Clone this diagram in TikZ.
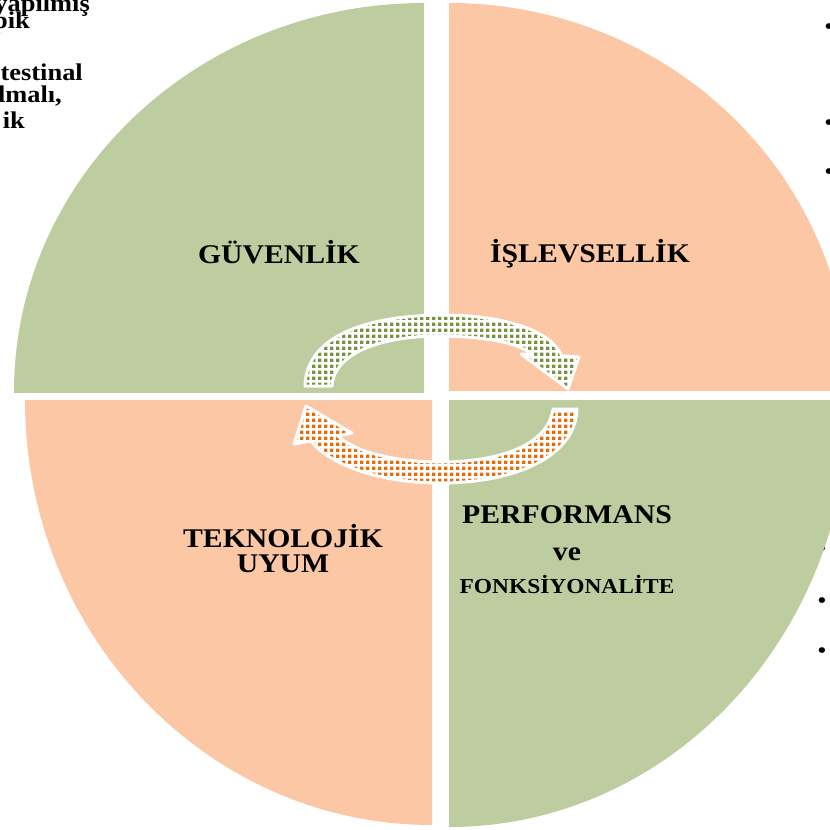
\documentclass[tikz,border=0pt]{standalone}
\usepackage{fontspec}
\setmainfont{Liberation Serif}
\newfontfamily\labelfont[FakeStretch=1.1]{Liberation Serif}
\usetikzlibrary{patterns.meta}
\definecolor{quadgreen}{RGB}{189,205,160}
\definecolor{quadorange}{RGB}{251,199,164}
\definecolor{arrowgreen}{RGB}{118,146,60}
\definecolor{arroworange}{RGB}{228,108,10}
\tikzdeclarepattern{
  name=bigchecker,
  type=uncolored,
  bottom left={(0pt,0pt)},
  top right={(6pt,6pt)},
  tile size={(6pt,6pt)},
  code={\fill (0pt,0pt) rectangle (4pt,4pt);}
}

\begin{document}
\begin{tikzpicture}[x=1pt,y=-1pt,
  sectitle/.style={font=\labelfont\bfseries\fontsize{27}{27}\selectfont, inner sep=0pt, anchor=base},
  cuttext/.style={font=\labelfont\bfseries\fontsize{24}{24}\selectfont, inner sep=0pt, anchor=base east},
  dotmark/.style={font=\labelfont\fontsize{24}{24}\selectfont, inner sep=0pt},
  arrowband/.style={preaction={fill=white}, pattern={bigchecker}, draw=white, line width=3pt, line join=round}]
\def\pagesize{830}

\useasboundingbox (0,0) rectangle (\pagesize,\pagesize);

\node[cuttext] (cut1) at (90,11) {yapılmış};
\node[cuttext] (cut2) at (30,28) {pik};
\node[cuttext] (cut3) at (83,80) {testinal};
\node[cuttext] (cut4) at (62,102) {dmalı,};
\node[cuttext] (cut5) at (25,128) {ik};

\node[dotmark] (dot1) at (829,29) {•};
\node[dotmark] (dot2) at (829,125) {•};
\node[dotmark] (dot3) at (829,174) {•};
\node[dotmark] (dot4) at (822,551) {•};
\node[dotmark] (dot5) at (822,603) {•};
\node[dotmark] (dot6) at (822,653) {•};

\begin{scope}
\clip (0,0) rectangle (424,392);
\fill[quadgreen] (424,392) ellipse [x radius=410, y radius=389];
\end{scope}
\begin{scope}
\clip (449,0) rectangle (\pagesize,390);
\fill[quadorange] (449,390) ellipse [x radius=400, y radius=387];
\end{scope}
\begin{scope}
\clip (0,400) rectangle (432,\pagesize);
\fill[quadorange] (432,400) ellipse [x radius=407, y radius=425];
\end{scope}
\begin{scope}
\clip (449,400) rectangle (\pagesize,\pagesize);
\fill[quadgreen] (449,400) ellipse [x radius=400, y radius=427];
\end{scope}

\draw[arrowband, pattern color=arrowgreen] (305,386) .. controls (306,338) and (362,316) .. (440,315)
  .. controls (505,315) and (550,330) .. (562,356) -- (579,357) -- (568,389) -- (521,354) -- (533,355)
  .. controls (518,342) and (482,336) .. (435,336) .. controls (378,337) and (334,354) .. (332,386) -- cycle;
\draw[arrowband, pattern color=arroworange] (577,409) .. controls (576,455) and (518,483) .. (440,483)
  .. controls (380,483) and (330,465) .. (311,441) -- (294,444) -- (306,406) -- (352,433) -- (338,436)
  .. controls (355,452) and (395,462) .. (440,462) .. controls (500,462) and (548,445) .. (553,409) -- cycle;

\node[sectitle] (guvenlik) at (279,263) {GÜVENLİK};
\node[sectitle] (islevsellik) at (590,262) {İŞLEVSELLİK};
\node[sectitle] (teknolojik) at (283,547) {TEKNOLOJİK};
\node[sectitle] (uyum) at (283,572) {UYUM};
\node[sectitle] (performans) at (567,523) {PERFORMANS};
\node[sectitle] (ve) at (567,560) {ve};
\node[sectitle, font=\labelfont\bfseries\fontsize{21.3}{21.3}\selectfont] (fonksiyonalite) at (567,593) {FONKSİYONALİTE};
\end{tikzpicture}
\end{document}
